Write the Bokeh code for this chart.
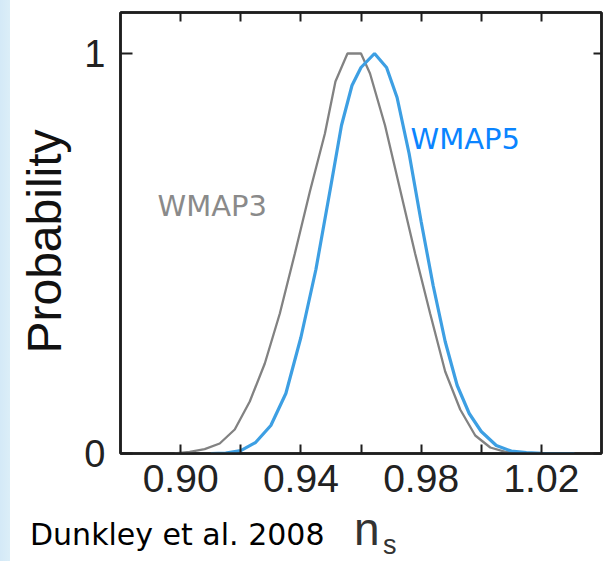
from bokeh.plotting import figure
from bokeh.models import Range1d, LinearAxis, FixedTicker, Div
from bokeh.layouts import column, row
from bokeh.embed import file_html
from bokeh.resources import INLINE
from bokeh.core.properties import value

# ---- data ----
ns_wmap3 = [0.898, 0.903, 0.908, 0.913, 0.918, 0.923, 0.928, 0.933, 0.938, 0.943,
            0.948, 0.9515, 0.9555, 0.960, 0.963, 0.968, 0.973, 0.978, 0.983, 0.988,
            0.993, 0.998, 1.003, 1.008, 1.015, 1.022]
p_wmap3 = [0.0, 0.004, 0.011, 0.025, 0.06, 0.13, 0.225, 0.35, 0.50, 0.655,
           0.80, 0.93, 1.0, 1.0, 0.95, 0.82, 0.66, 0.50, 0.35, 0.205,
           0.11, 0.045, 0.015, 0.004, 0.001, 0.0]

ns_wmap5 = [0.910, 0.915, 0.920, 0.925, 0.930, 0.935, 0.940, 0.945, 0.950, 0.9535,
            0.957, 0.960, 0.9645, 0.9685, 0.972, 0.976, 0.980, 0.984, 0.988, 0.992,
            0.996, 1.000, 1.005, 1.010, 1.015, 1.020, 1.031]
p_wmap5 = [0.0, 0.001, 0.007, 0.028, 0.07, 0.15, 0.29, 0.46, 0.67, 0.82,
           0.92, 0.965, 1.0, 0.965, 0.89, 0.75, 0.58, 0.42, 0.28, 0.17,
           0.10, 0.055, 0.02, 0.006, 0.002, 0.0005, 0.0]

x_major_ticks = [0.90, 0.94, 0.98, 1.02]
x_minor_ticks = [0.92, 0.96, 1.00]
x_tick_labels = ["0.90", "0.94", "0.98", "1.02"]
y_ticks = [0, 1]
y_tick_labels = ["0", "1"]

series_names = ["WMAP3", "WMAP5"]
series_colors = ["#8a8a8a", "#0a84ff"]
x_title = ("n", "s")
y_title = "Probability"
citation = "Dunkley et al. 2008"

X0, X1 = 0.88, 1.04
Y0, Y1 = 0.0, 1.1025

W, H = 603, 561
LEFT_W = 75                 # width of the column holding the y title
FIG_W = W - LEFT_W
FIG_H = 510
FL, FR, FT, FB = 120, 601, 12, 453   # frame edges in page pixels
FRAME = "#1e1e1e"


def px_x(px):
    return X0 + (px - FL) / (FR - FL) * (X1 - X0)


def px_y(py):
    return Y0 + (FB - py) / (FB - FT) * (Y1 - Y0)


p = figure(width=FIG_W, height=FIG_H, output_backend="svg", toolbar_location=None,
           x_range=Range1d(X0, X1), y_range=Range1d(Y0, Y1),
           x_axis_location=None, y_axis_location=None,
           min_border_left=FL - LEFT_W, min_border_right=W - FR,
           min_border_top=FT, min_border_bottom=FIG_H - FB)
p.grid.visible = False
p.background_fill_color = "white"
p.border_fill_color = None
p.outline_line_color = FRAME
p.outline_line_width = 2.5


def style_ticks(ax, tin, minor=True):
    ax.major_tick_in = tin
    ax.major_tick_out = 0
    ax.major_tick_line_width = 2
    ax.major_tick_line_color = FRAME
    if minor:
        ax.minor_tick_in = tin
        ax.minor_tick_out = 0
        ax.minor_tick_line_width = 2
        ax.minor_tick_line_color = FRAME
    ax.axis_line_color = FRAME
    ax.axis_line_width = 2.5


def blank_labels(ax, ticks):
    ax.major_label_overrides = {t: "" for t in ticks}
    ax.major_label_text_font_size = "0px"
    ax.major_label_standoff = 0


# bottom axis with labels
xb = LinearAxis(ticker=FixedTicker(ticks=x_major_ticks, minor_ticks=x_minor_ticks))
style_ticks(xb, 9)
xb.major_label_overrides = dict(zip(x_major_ticks, x_tick_labels))
xb.major_label_standoff = 11
xb.major_label_text_font = "Liberation Sans"
xb.major_label_text_font_size = "39px"
xb.major_label_text_color = "#222222"
p.add_layout(xb, "below")

# top axis: ticks only
xt = LinearAxis(ticker=FixedTicker(ticks=x_major_ticks, minor_ticks=x_minor_ticks))
style_ticks(xt, 9)
blank_labels(xt, x_major_ticks)
p.add_layout(xt, "above")

# left axis with 0 / 1
yl = LinearAxis(ticker=FixedTicker(ticks=y_ticks, minor_ticks=[]))
style_ticks(yl, 12, minor=False)
yl.major_label_overrides = dict(zip(y_ticks, y_tick_labels))
yl.major_label_standoff = 15
yl.major_label_text_font = "Liberation Sans"
yl.major_label_text_font_size = "38px"
yl.major_label_text_color = "#222222"
p.add_layout(yl, "left")

# right axis: ticks only
yr = LinearAxis(ticker=FixedTicker(ticks=y_ticks, minor_ticks=[]))
style_ticks(yr, 8, minor=False)
blank_labels(yr, y_ticks)
p.add_layout(yr, "right")

# curves
p.line(ns_wmap3, p_wmap3, line_color="#828282", line_width=2.3)
p.line(ns_wmap5, p_wmap5, line_color="#3d9fe3", line_width=3.2)

# series labels (inside the frame)
p.text(x=[px_x(157), px_x(410)], y=[px_y(205), px_y(138)], text=series_names,
       text_align="left", text_baseline="alphabetic", text_font=value("DejaVu Sans"),
       text_font_size=value("29px"), text_color=series_colors)

# y-axis title (rotated HTML text, reads bottom to top)
left_html = (
    f'<div style="position:relative;width:{LEFT_W}px;height:{FIG_H}px;overflow:visible;">'
    '<span style="position:absolute;left:0;top:0;transform-origin:0 0;'
    'transform:translate(21.4px,241.5px) rotate(-90deg) translateX(-50%);'
    "font-family:'Liberation Sans';font-size:48px;line-height:48px;color:#111;"
    f'white-space:nowrap;">{y_title}</span></div>'
)
left_div = Div(text=left_html, width=LEFT_W, height=FIG_H, margin=(0, 0, 0, 0))

# citation and x-axis title below the plot (HTML text)
DIV_H = H - FIG_H
html = (
    f'<div style="position:relative;width:{W}px;height:{DIV_H}px;">'
    f'<span style="position:absolute;left:30px;top:9.6px;font-family:\'DejaVu Sans\';'
    f'font-size:30px;line-height:30px;color:#000;white-space:nowrap;">{citation}</span>'
    f'<span style="position:absolute;left:354px;top:-3.9px;font-family:\'Liberation Sans\';'
    f'font-size:46px;line-height:46px;color:#333;white-space:nowrap;">{x_title[0]}</span>'
    f'<span style="position:absolute;left:383px;top:24.6px;font-family:\'Liberation Sans\';'
    f'font-size:27px;line-height:20px;color:#333;white-space:nowrap;">{x_title[1]}</span>'
    '</div>'
)
bottom_div = Div(text=html, width=W, height=DIV_H, margin=(0, 0, 0, 0))

layout = column(row(left_div, p, spacing=0), bottom_div, spacing=0,
                styles={"background": "linear-gradient(to right, #d4e9f7 0px, #dbeef8 10px, #ffffff 10px)"})

open("out.html", "w").write(file_html(layout, INLINE))
